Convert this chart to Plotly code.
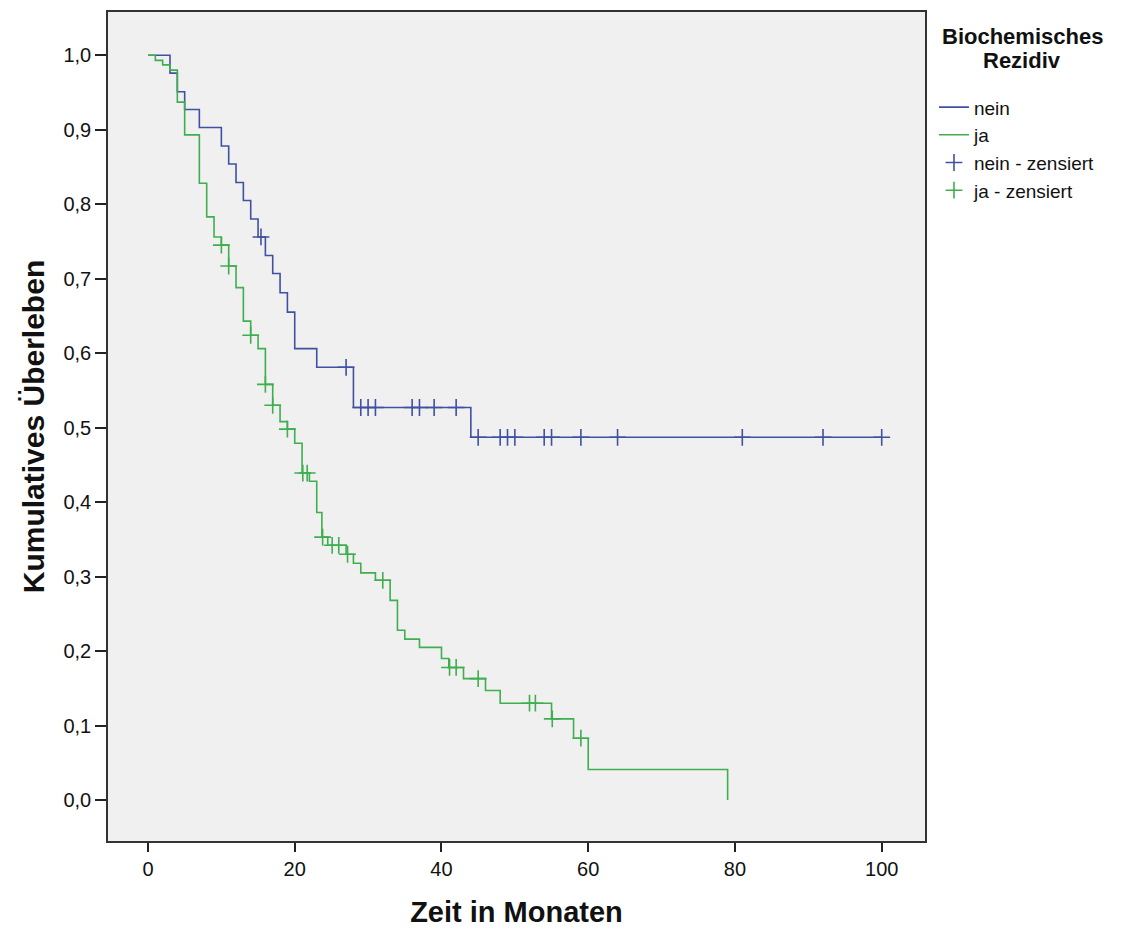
import plotly.graph_objects as go

# ---- data ----
times_nein = [0, 3, 4, 5, 7, 10, 11, 12, 13, 14, 15, 16, 17, 18, 19, 20, 23, 28, 44, 100]
surv_nein = [1.0, 0.976, 0.951, 0.927, 0.903, 0.878, 0.854, 0.829, 0.805, 0.780,
             0.756, 0.731, 0.707, 0.681, 0.655, 0.606, 0.581, 0.527, 0.487, 0.487]
censor_nein = [15.4, 27, 29, 30, 31, 36, 37, 39, 42, 45, 48, 49, 50, 54, 55, 59, 64, 81, 92, 100]

times_ja = [0, 1, 2, 3, 4, 5, 7, 8, 9, 10, 11, 12, 13, 14, 15, 16, 17, 18, 19, 20,
            21, 22, 23, 23.7, 24.5, 27, 28, 29, 31, 33, 34, 35, 37, 40, 41, 43, 46, 48, 55, 58,
            60, 79]
surv_ja = [1.0, 0.993, 0.987, 0.980, 0.937, 0.893, 0.828, 0.783, 0.756, 0.745,
           0.717, 0.688, 0.643, 0.624, 0.606, 0.558, 0.530, 0.508, 0.498, 0.479,
           0.439, 0.428, 0.386, 0.353, 0.342, 0.330, 0.318, 0.305, 0.295, 0.268,
           0.228, 0.216, 0.205, 0.190, 0.178, 0.163, 0.147, 0.130, 0.109, 0.083,
           0.041, 0.0]
censor_ja = [10, 11, 14, 16, 17, 19, 21.1, 21.7, 23.8, 25.1, 26, 27.2, 32, 41.1, 42, 45,
             52, 52.8, 55.1, 59]

x_ticks = [0, 20, 40, 60, 80, 100]
y_ticks = [0.0, 0.1, 0.2, 0.3, 0.4, 0.5, 0.6, 0.7, 0.8, 0.9, 1.0]
y_ticktext = [f"{v:.1f}".replace(".", ",") for v in y_ticks]

BLUE = "#3f51a0"
GREEN = "#3fae4f"


def step_value(times, surv, t):
    val = surv[0]
    for ti, si in zip(times, surv):
        if ti <= t:
            val = si
    return val


fig = go.Figure()
fig.add_trace(go.Scatter(x=times_nein, y=surv_nein, mode="lines", line_shape="hv",
                         line=dict(color=BLUE, width=1.6), name="nein"))
fig.add_trace(go.Scatter(x=times_ja, y=surv_ja, mode="lines", line_shape="hv",
                         line=dict(color=GREEN, width=1.6), name="ja"))
fig.add_trace(go.Scatter(x=censor_nein, y=[step_value(times_nein, surv_nein, t) for t in censor_nein],
                         mode="markers", name="nein - zensiert",
                         marker=dict(symbol="cross-thin", size=12, line=dict(color=BLUE, width=1.6))))
fig.add_trace(go.Scatter(x=censor_ja, y=[step_value(times_ja, surv_ja, t) for t in censor_ja],
                         mode="markers", name="ja - zensiert",
                         marker=dict(symbol="cross-thin", size=12, line=dict(color=GREEN, width=1.6))))

fig.update_layout(
    width=1136, height=928,
    margin=dict(l=108, r=211, t=12, b=87, autoexpand=False),
    paper_bgcolor="white",
    plot_bgcolor="#f0f0f0",
    font=dict(family="Liberation Sans, Arial, sans-serif", color="#111"),
    showlegend=True,
    legend=dict(x=1.011, xanchor="left", y=0.908, yanchor="top",
                font=dict(size=19, color="#111"), bgcolor="rgba(0,0,0,0)",
                tracegroupgap=0, itemwidth=30),
)
fig.add_annotation(text="<b>Biochemisches</b>", xref="paper", yref="paper",
                   x=1.119, y=0.970, xanchor="center", yanchor="middle", showarrow=False,
                   font=dict(size=22, color="#111"))
fig.add_annotation(text="<b>Rezidiv</b>", xref="paper", yref="paper",
                   x=1.119, y=0.942, xanchor="center", yanchor="middle", showarrow=False,
                   font=dict(size=22, color="#111"))

fig.update_xaxes(range=[-5.45, 105.9], tickvals=x_ticks, ticktext=[str(v) for v in x_ticks],
                 ticks="outside", ticklen=9, tickwidth=2, tickcolor="#222",
                 showline=True, linecolor="#333", linewidth=1.5, mirror=True, automargin=False,
                 showgrid=False, zeroline=False, tickfont=dict(size=20),
                 title=dict(text="<b>Zeit in Monaten</b>", font=dict(size=29), standoff=42))
fig.update_yaxes(range=[-0.055, 1.058], tickvals=y_ticks, ticktext=y_ticktext,
                 ticks="outside", ticklen=11, tickwidth=2, tickcolor="#222",
                 showline=True, linecolor="#333", linewidth=1.5, mirror=True, automargin=False,
                 showgrid=False, zeroline=False, tickfont=dict(size=20),
                 title=dict(text="<b>Kumulatives Überleben</b>", font=dict(size=30), standoff=10))

fig.write_html("out.html", config={"displayModeBar": False},
               post_script="document.body.style.margin='0';")
